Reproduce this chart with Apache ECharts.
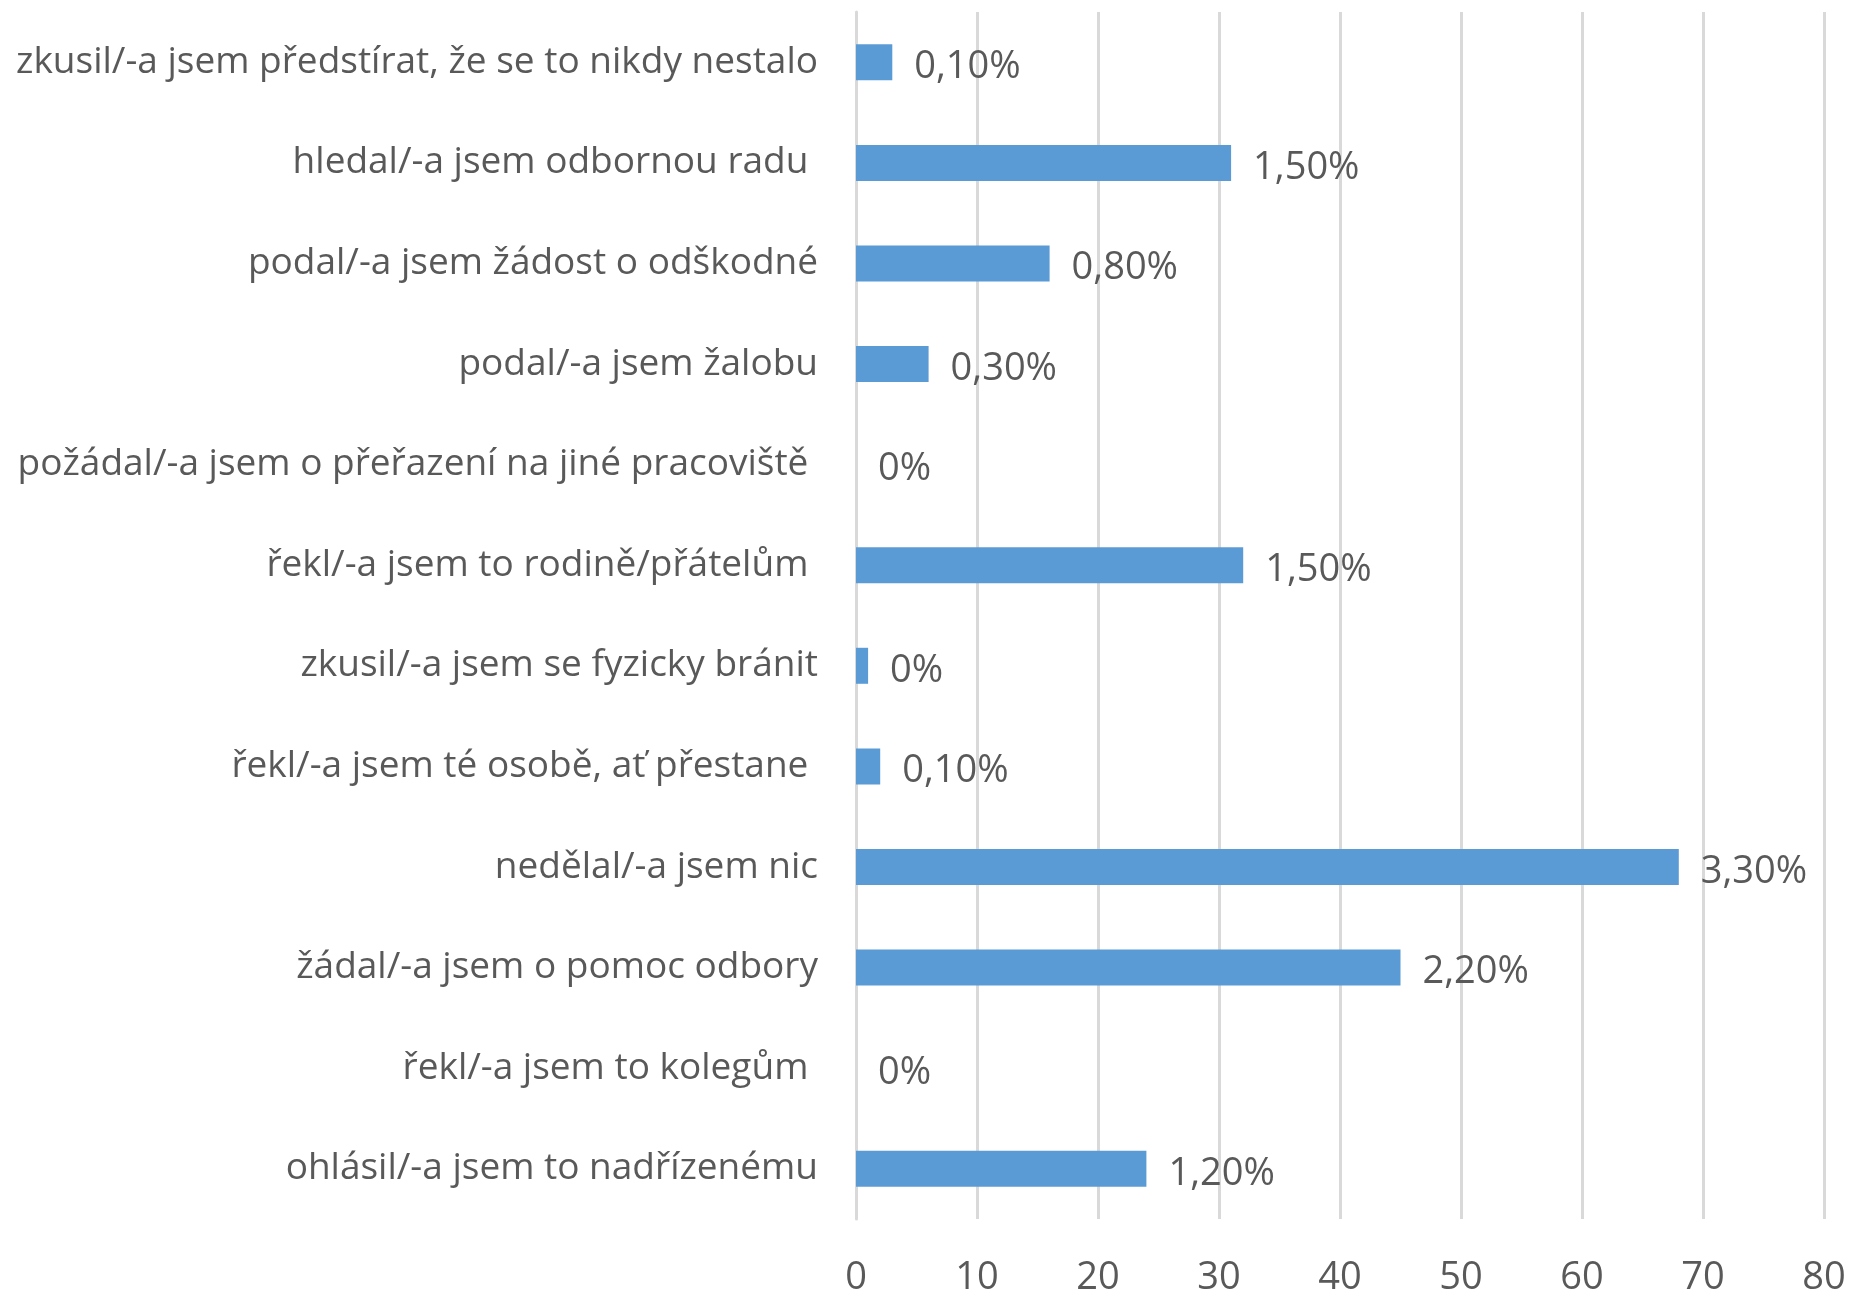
<!DOCTYPE html>
<html>
<head>
<meta charset="utf-8">
<script src="https://cdn.jsdelivr.net/npm/echarts@6/dist/echarts.min.js"></script>
<style>
html,body{margin:0;padding:0;background:#fff;}
#chart{width:1856px;height:1297px;}
</style>
</head>
<body>
<div id="chart"></div>
<script>
// bottom-to-top order
const categories = [
  'ohlásil/-a jsem to nadřízenému',
  'řekl/-a jsem to kolegům ',
  'žádal/-a jsem o pomoc odbory',
  'nedělal/-a jsem nic',
  'řekl/-a jsem té osobě, ať přestane ',
  'zkusil/-a jsem se fyzicky bránit',
  'řekl/-a jsem to rodině/přátelům ',
  'požádal/-a jsem o přeřazení na jiné pracoviště ',
  'podal/-a jsem žalobu',
  'podal/-a jsem žádost o odškodné',
  'hledal/-a jsem odbornou radu ',
  'zkusil/-a jsem předstírat, že se to nikdy nestalo'
];
const values = [24, 0, 45, 68, 2, 1, 32, 0, 6, 16, 31, 3];
const valueLabels = ['1,20%', '0%', '2,20%', '3,30%', '0,10%', '0%', '1,50%', '0%', '0,30%', '0,80%', '1,50%', '0,10%'];
const xTicks = [0, 10, 20, 30, 40, 50, 60, 70, 80];

const FONT = '"Open Sans", "Noto Sans", sans-serif';
const chart = echarts.init(document.getElementById('chart'), null, {renderer: 'canvas'});
chart.setOption({
  animation: false,
  backgroundColor: '#ffffff',
  grid: {left: 856, right: 32, top: 12, bottom: 73, containLabel: false},
  xAxis: {
    type: 'value',
    min: xTicks[0],
    max: xTicks[xTicks.length - 1],
    interval: 10,
    axisLine: {show: false},
    axisTick: {show: false},
    axisLabel: {color: '#595959', fontSize: 38, fontFamily: FONT, margin: 40},
    splitLine: {show: true, lineStyle: {color: '#d9d9d9', width: 3}}
  },
  yAxis: {
    type: 'category',
    data: categories,
    axisLine: {show: true, lineStyle: {color: '#d9d9d9', width: 3}},
    axisTick: {show: false},
    axisLabel: {color: '#595959', fontSize: 37, fontFamily: FONT, margin: 38, padding: [5, 0, 0, 0]}
  },
  series: [{
    type: 'bar',
    data: values,
    barWidth: 36,
    itemStyle: {color: '#5b9bd5'},
    label: {
      show: true,
      position: 'right',
      distance: 22,
      offset: [0, 5],
      color: '#595959',
      fontSize: 38,
      fontFamily: FONT,
      formatter: p => valueLabels[p.dataIndex]
    }
  }]
});
</script>
</body>
</html>
